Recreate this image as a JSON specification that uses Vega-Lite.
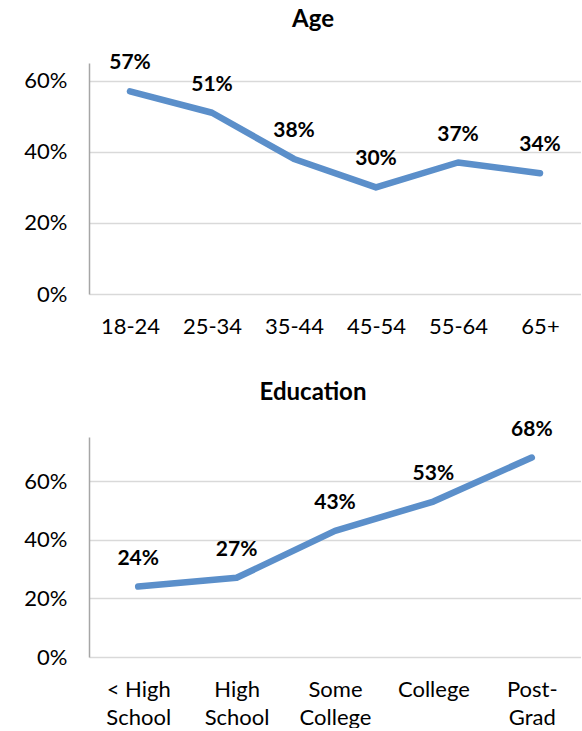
{
  "$schema": "https://vega.github.io/schema/vega-lite/v6.json",
  "padding": {"left": 23, "top": 8, "right": 0, "bottom": 0},
  "spacing": 43,
  "config": {
    "font": "Lato",
    "view": {"stroke": null},
    "axis": {"labelFont": "Lato", "labelFontSize": 22, "labelColor": "#000000", "domainColor": "#a6a6a6", "domainWidth": 1.5, "gridColor": "#d9d9d9", "gridWidth": 1.5, "title": null},
    "title": {"font": "Lato", "fontSize": 24, "fontWeight": "bold", "color": "#000000", "anchor": "middle", "dx": -22}
  },
  "datasets": {
    "age": [
      {"group": "18-24", "value": 0.57},
      {"group": "25-34", "value": 0.51},
      {"group": "35-44", "value": 0.38},
      {"group": "45-54", "value": 0.30},
      {"group": "55-64", "value": 0.37},
      {"group": "65+", "value": 0.34}
    ],
    "edu": [
      {"group": "< High School", "value": 0.24},
      {"group": "High School", "value": 0.27},
      {"group": "Some College", "value": 0.43},
      {"group": "College", "value": 0.53},
      {"group": "Post-Grad", "value": 0.68}
    ]
  },
  "vconcat": [
    {
      "data": {"name": "age"},
      "title": {"text": "Age", "offset": 20},
      "width": 492,
      "height": 231,
      "encoding": {
        "x": {"field": "group", "type": "ordinal", "sort": null, "scale": {"type": "point", "padding": 0.5},
              "axis": {"labelAngle": 0, "ticks": false, "labelPadding": 22, "grid": false, "domain": false}},
        "y": {"field": "value", "type": "quantitative", "scale": {"domain": [0, 0.65]},
              "axis": {"values": [0, 0.2, 0.4, 0.6], "format": ".0%", "ticks": false, "labelPadding": 22, "grid": true}}
      },
      "layer": [
        {"mark": {"type": "line", "strokeWidth": 6.5, "color": "#5b8fca", "strokeCap": "round", "strokeJoin": "round"}},
        {"mark": {"type": "text", "fontWeight": "bold", "fontSize": 21, "dy": -28, "baseline": "middle", "color": "#000000"},
         "encoding": {"text": {"field": "value", "type": "quantitative", "format": ".0%"}}}
      ]
    },
    {
      "data": {"name": "edu"},
      "title": {"text": "Education", "offset": 14},
      "width": 492,
      "height": 220,
      "encoding": {
        "x": {"field": "group", "type": "ordinal", "sort": null, "scale": {"type": "point", "padding": 0.5},
              "axis": {"labelAngle": 0, "ticks": false, "labelPadding": 22, "grid": false, "domain": false, "labelLineHeight": 28,
                       "labelExpr": "datum.label == 'Post-Grad' ? ['Post-', 'Grad'] : datum.label == '< High School' ? ['< High', 'School'] : split(datum.label, ' ')"}},
        "y": {"field": "value", "type": "quantitative", "scale": {"domain": [0, 0.75]},
              "axis": {"values": [0, 0.2, 0.4, 0.6], "format": ".0%", "ticks": false, "labelPadding": 22, "grid": true}}
      },
      "layer": [
        {"mark": {"type": "line", "strokeWidth": 6.5, "color": "#5b8fca", "strokeCap": "round", "strokeJoin": "round"}},
        {"mark": {"type": "text", "fontWeight": "bold", "fontSize": 21, "dy": -28, "baseline": "middle", "color": "#000000"},
         "encoding": {"text": {"field": "value", "type": "quantitative", "format": ".0%"}}}
      ]
    }
  ]
}
